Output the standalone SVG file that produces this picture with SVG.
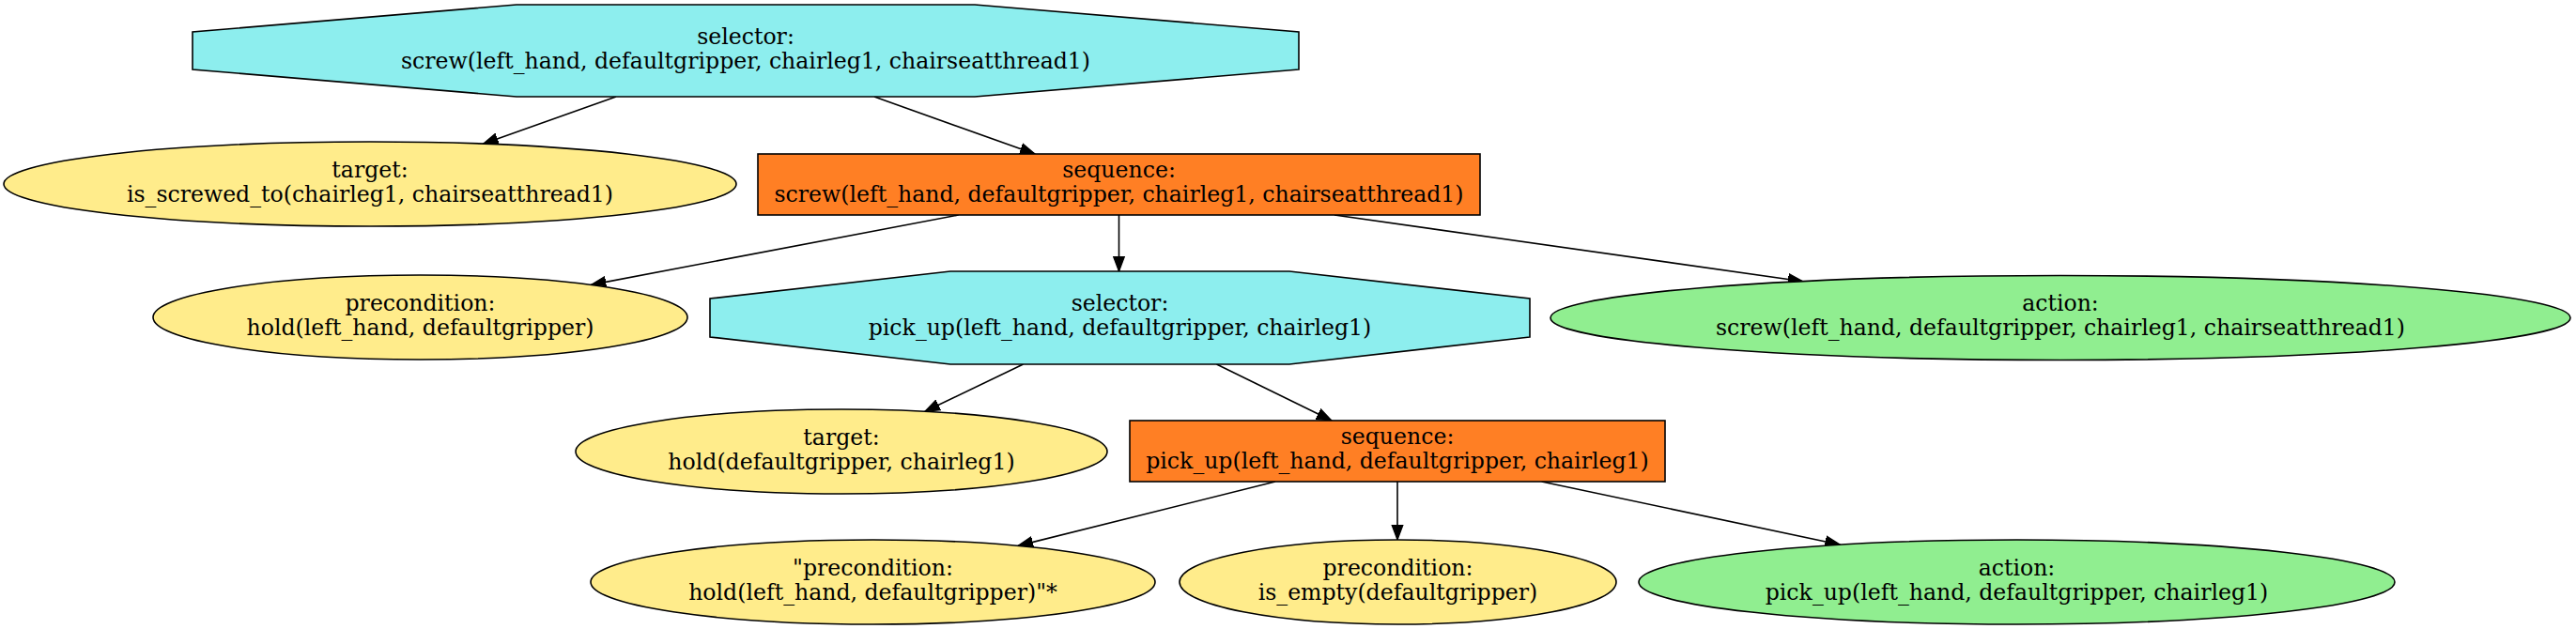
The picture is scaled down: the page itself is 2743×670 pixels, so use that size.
<svg xmlns="http://www.w3.org/2000/svg" width="2743" height="670" viewBox="0 0 2743 670">
<style>
text{font-family:"DejaVu Serif","Liberation Serif",serif;font-size:23.6px;fill:#000;text-anchor:middle}
.sel{fill:#8DEEEE;stroke:#000;stroke-width:1.6}
.seq{fill:#FF7F24;stroke:#000;stroke-width:1.6}
.cond{fill:#FFEC8B;stroke:#000;stroke-width:1.6}
.act{fill:#90EE90;stroke:#000;stroke-width:1.6}
.edge{stroke:#000;stroke-width:1.6;fill:none;marker-end:url(#arr)}
</style>
<defs>
<marker id="arr" markerUnits="userSpaceOnUse" markerWidth="18" markerHeight="14" viewBox="0 -7 18 14" refX="16" refY="0" orient="auto">
<path d="M0,-6 L16,0 L0,6 Z" fill="#000" stroke="#000" stroke-width="1.2"/>
</marker>
</defs>
<rect width="2743" height="670" fill="#fff"/>
<g id="connectors">
<line class="edge" x1="656" y1="103" x2="514.5" y2="153.2"/>
<line class="edge" x1="931" y1="103" x2="1102" y2="164"/>
<line class="edge" x1="1020.6" y1="229" x2="629.4" y2="303.4"/>
<line class="edge" x1="1191.5" y1="229" x2="1191.5" y2="289"/>
<line class="edge" x1="1421" y1="229" x2="1919.8" y2="299.7"/>
<line class="edge" x1="1089.5" y1="388" x2="984.9" y2="438.3"/>
<line class="edge" x1="1295.5" y1="388" x2="1418" y2="448"/>
<line class="edge" x1="1358" y1="513" x2="1084" y2="581.4"/>
<line class="edge" x1="1488" y1="513" x2="1488" y2="575"/>
<line class="edge" x1="1641.6" y1="513" x2="1959.4" y2="580.2"/>
</g>
<g id="n_selector_screw">
<polygon class="sel" points="1383,74 1038,103 550,103 205,74 205,34 550,5 1038,5 1383,34"/>
<text x="794" y="47">selector:</text>
<text x="794" y="73">screw(left_hand, defaultgripper, chairleg1, chairseatthread1)</text>
</g>
<g id="n_target_screwed">
<ellipse class="cond" cx="394" cy="196" rx="390" ry="45"/>
<text x="394" y="189">target:</text>
<text x="394" y="215">is_screwed_to(chairleg1, chairseatthread1)</text>
</g>
<g id="n_sequence_screw">
<rect class="seq" x="807" y="164" width="769" height="65"/>
<text x="1191.5" y="189">sequence:</text>
<text x="1191.5" y="215">screw(left_hand, defaultgripper, chairleg1, chairseatthread1)</text>
</g>
<g id="n_precondition_hold">
<ellipse class="cond" cx="447.5" cy="338" rx="284.5" ry="45"/>
<text x="447.5" y="331">precondition:</text>
<text x="447.5" y="357">hold(left_hand, defaultgripper)</text>
</g>
<g id="n_selector_pickup">
<polygon class="sel" points="1629,359 1373,388 1012,388 756,359 756,318 1012,289 1373,289 1629,318"/>
<text x="1192.5" y="331">selector:</text>
<text x="1192.5" y="357">pick_up(left_hand, defaultgripper, chairleg1)</text>
</g>
<g id="n_action_screw">
<ellipse class="act" cx="2194" cy="338.5" rx="543" ry="45"/>
<text x="2194" y="331">action:</text>
<text x="2194" y="357">screw(left_hand, defaultgripper, chairleg1, chairseatthread1)</text>
</g>
<g id="n_target_hold">
<ellipse class="cond" cx="896" cy="481" rx="283" ry="45"/>
<text x="896" y="474">target:</text>
<text x="896" y="500">hold(defaultgripper, chairleg1)</text>
</g>
<g id="n_sequence_pickup">
<rect class="seq" x="1203" y="448" width="570" height="65"/>
<text x="1488" y="473">sequence:</text>
<text x="1488" y="499">pick_up(left_hand, defaultgripper, chairleg1)</text>
</g>
<g id="n_precondition_hold2">
<ellipse class="cond" cx="929.5" cy="620" rx="300.5" ry="45"/>
<text x="929.5" y="613">"precondition:</text>
<text x="929.5" y="639">hold(left_hand, defaultgripper)"*</text>
</g>
<g id="n_precondition_empty">
<ellipse class="cond" cx="1488.5" cy="620" rx="232.5" ry="45"/>
<text x="1488.5" y="613">precondition:</text>
<text x="1488.5" y="639">is_empty(defaultgripper)</text>
</g>
<g id="n_action_pickup">
<ellipse class="act" cx="2147.5" cy="620" rx="402.5" ry="45"/>
<text x="2147.5" y="613">action:</text>
<text x="2147.5" y="639">pick_up(left_hand, defaultgripper, chairleg1)</text>
</g>
</svg>
